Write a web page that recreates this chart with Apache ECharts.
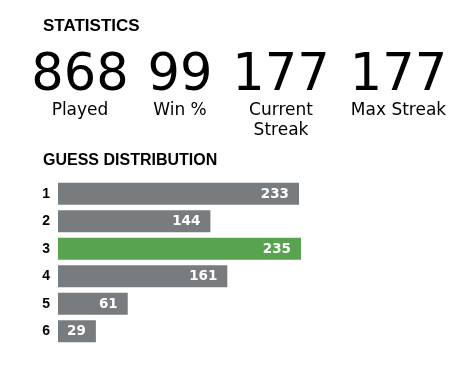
<!DOCTYPE html>
<html>
<head>
<meta charset="utf-8">
<script src="https://cdn.jsdelivr.net/npm/echarts@6/dist/echarts.min.js"></script>
<style>
  html, body { margin: 0; padding: 0; background: #ffffff; }
  #chart { width: 474px; height: 379px; }
</style>
</head>
<body>
<div id="chart"></div>
<script>
// ---- data ----
const statValues = ['868', '99', '177', '177'];
const statLabels = ['Played', 'Win %', 'Current\nStreak', 'Max Streak'];
const guesses = ['1', '2', '3', '4', '5', '6'];
const guessCounts = [233, 144, 235, 161, 61, 29];
const highlightGuess = '3';

// ---- styling ----
const GRAY = '#787c7e';
const GREEN = '#57a350';
const statCenters = [80, 180, 281, 398.5];
const PAD = 9;

const chart = echarts.init(document.getElementById('chart'), null, { renderer: 'canvas' });

const graphics = [
  { type: 'text', left: 43, top: 18, style: { text: 'STATISTICS', fontFamily: 'Liberation Sans', fontWeight: 'bold', fontSize: 17, fill: '#000' } },
  { type: 'text', left: 43, top: 153, style: { text: 'GUESS DISTRIBUTION', fontFamily: 'Liberation Sans', fontWeight: 'bold', fontSize: 16, fill: '#000' } }
];
statValues.forEach((v, i) => {
  graphics.push({ type: 'text', x: statCenters[i], y: 77, style: { text: v, fontFamily: 'DejaVu Sans', fontSize: 51, fill: '#000', align: 'center', verticalAlign: 'middle' } });
  graphics.push({ type: 'text', x: statCenters[i], y: 101, style: { text: statLabels[i], fontFamily: 'DejaVu Sans', fontSize: 17, lineHeight: 20, fill: '#000', align: 'center', verticalAlign: 'top' } });
});

chart.setOption({
  animation: false,
  graphic: graphics,
  grid: { left: 67, top: 180, width: 234, height: 165, containLabel: false },
  xAxis: { type: 'value', min: 0, max: 235, show: false },
  yAxis: {
    type: 'category', data: guesses, inverse: true,
    axisLine: { show: false }, axisTick: { show: false }, splitLine: { show: false },
    axisLabel: { margin: 17, color: '#000', fontFamily: 'Liberation Sans', fontWeight: 'bold', fontSize: 14 }
  },
  series: [{
    type: 'custom',
    data: guessCounts.map((c, i) => [c, i]),
    encode: { x: 0, y: 1 },
    renderItem: function (params, api) {
      const val = api.value(0);
      const idx = api.value(1);
      const start = api.coord([0, idx]);
      const end = api.coord([val, idx]);
      const h = 22;
      const color = guesses[idx] === highlightGuess ? GREEN : GRAY;
      return {
        type: 'group',
        children: [
          { type: 'rect', shape: { x: start[0] - PAD, y: start[1] - h / 2, width: end[0] - start[0] + PAD, height: h }, style: { fill: color } },
          { type: 'text', x: end[0] - 10, y: end[1] + 0.5, style: { text: String(val), fill: '#fff', fontFamily: 'DejaVu Sans', fontWeight: 'bold', fontSize: 13.5, align: 'right', verticalAlign: 'middle' } }
        ]
      };
    }
  }]
});
</script>
</body>
</html>
